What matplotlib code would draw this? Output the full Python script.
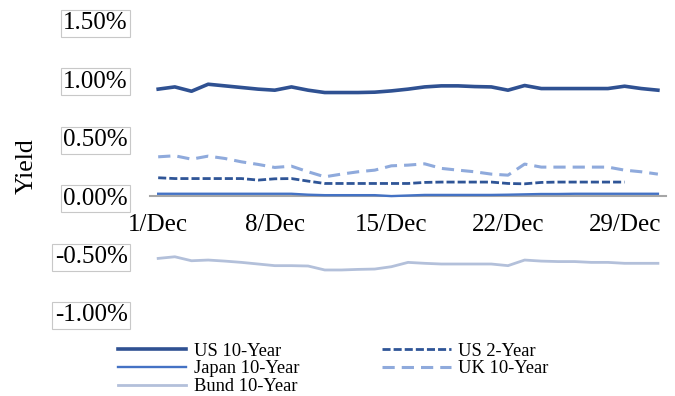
import numpy as np
import pandas as pd
import matplotlib
matplotlib.use('Agg')
import matplotlib.pyplot as plt
import matplotlib.dates as mdates
from matplotlib.ticker import PercentFormatter

plt.rcParams['font.family'] = ['Liberation Serif', 'DejaVu Serif']
plt.rcParams['axes.unicode_minus'] = False

# daily yields for December, in percent
dates = pd.date_range('2020-12-01', periods=31, freq='D')

us10 = [0.915, 0.934, 0.897, 0.957, 0.943, 0.929, 0.915, 0.906, 0.934, 0.906,
        0.886, 0.886, 0.886, 0.889, 0.900, 0.915, 0.934, 0.943, 0.943, 0.937,
        0.934, 0.906, 0.946, 0.920, 0.920, 0.920, 0.920, 0.920, 0.940, 0.920,
        0.906]
us2 = [0.157, 0.150, 0.150, 0.150, 0.150, 0.150, 0.137, 0.148, 0.150, 0.128,
       0.108, 0.108, 0.108, 0.108, 0.108, 0.108, 0.117, 0.120, 0.120, 0.120,
       0.120, 0.108, 0.105, 0.117, 0.120, 0.120, 0.120, 0.120, 0.120, np.nan,
       np.nan]
japan10 = [0.020, 0.020, 0.020, 0.020, 0.020, 0.020, 0.020, 0.020, 0.020, 0.012,
           0.008, 0.008, 0.008, 0.008, 0.000, 0.005, 0.010, 0.010, 0.010, 0.010,
           0.010, 0.012, 0.015, 0.018, 0.018, 0.020, 0.020, 0.020, 0.020, 0.020,
           0.020]
uk10 = [0.336, 0.345, 0.316, 0.342, 0.322, 0.293, 0.271, 0.245, 0.256, 0.208,
        0.165, 0.188, 0.208, 0.222, 0.259, 0.265, 0.276, 0.237, 0.222, 0.208,
        0.188, 0.179, 0.274, 0.248, 0.248, 0.248, 0.248, 0.248, 0.222, 0.208,
        0.188]
bund10 = [-0.533, -0.519, -0.553, -0.547, -0.556, -0.567, -0.581, -0.595, -0.595, -0.598,
          -0.632, -0.632, -0.627, -0.624, -0.604, -0.567, -0.575, -0.581, -0.581, -0.581,
          -0.581, -0.595, -0.547, -0.556, -0.560, -0.560, -0.567, -0.567, -0.575, -0.575,
          -0.575]

fig = plt.figure(figsize=(6.75, 3.96), dpi=100)
ax = fig.add_axes([0.222, 0.2096, 0.765, 0.738])

l_us10, = ax.plot(dates, us10, color='#2F5192', lw=2.6, label='US 10-Year')
l_us2, = ax.plot(dates, us2, color='#2F5597', lw=2.0, ls=(0, (2.9, 1.1)), label='US 2-Year')
l_jp, = ax.plot(dates, japan10, color='#4472C4', lw=1.7, label='Japan 10-Year')
l_uk, = ax.plot(dates, uk10, color='#8FAADC', lw=2.2, ls=(0, (4.0, 2.3)), label='UK 10-Year')
l_bund, = ax.plot(dates, bund10, color='#B3C0DA', lw=2.0, label='Bund 10-Year')

ax.set_xlim(dates[0] - pd.Timedelta(hours=12), dates[-1] + pd.Timedelta(hours=12))
ax.set_ylim(-1.0, 1.5)
ax.set_yticks(np.arange(-1.0, 1.51, 0.5))
ax.yaxis.set_major_formatter(PercentFormatter(decimals=2))
ax.set_xticks(dates[::7])
ax.xaxis.set_major_formatter(mdates.DateFormatter('%-d/%b'))

for s in ['top', 'right', 'left']:
    ax.spines[s].set_visible(False)
ax.spines['bottom'].set_position(('data', 0))
ax.spines['bottom'].set_color('#A6A6A6')
ax.spines['bottom'].set_linewidth(1.5)
ax.spines['bottom'].set_zorder(1)

ax.tick_params(axis='both', length=0, labelsize=18)
ax.tick_params(axis='y', pad=16)
ax.tick_params(axis='x', pad=13)
for lab in ax.get_yticklabels():
    lab.set_bbox(dict(boxstyle='square,pad=0.1', fc='white', ec='#C8C8C8', lw=0.8))

fig.text(0.040, 0.58, 'Yield', rotation=90, fontsize=18.5, ha='center', va='center')

fig.legend(handles=[l_us10, l_jp, l_bund, l_us2, l_uk], ncol=2, frameon=False,
           loc='upper left', bbox_to_anchor=(0.175, 0.134), borderpad=0, borderaxespad=0,
           fontsize=13.3, handlelength=3.7, handletextpad=0.4, columnspacing=4.5,
           labelspacing=0.03)

fig.savefig('out.png', dpi=100)
